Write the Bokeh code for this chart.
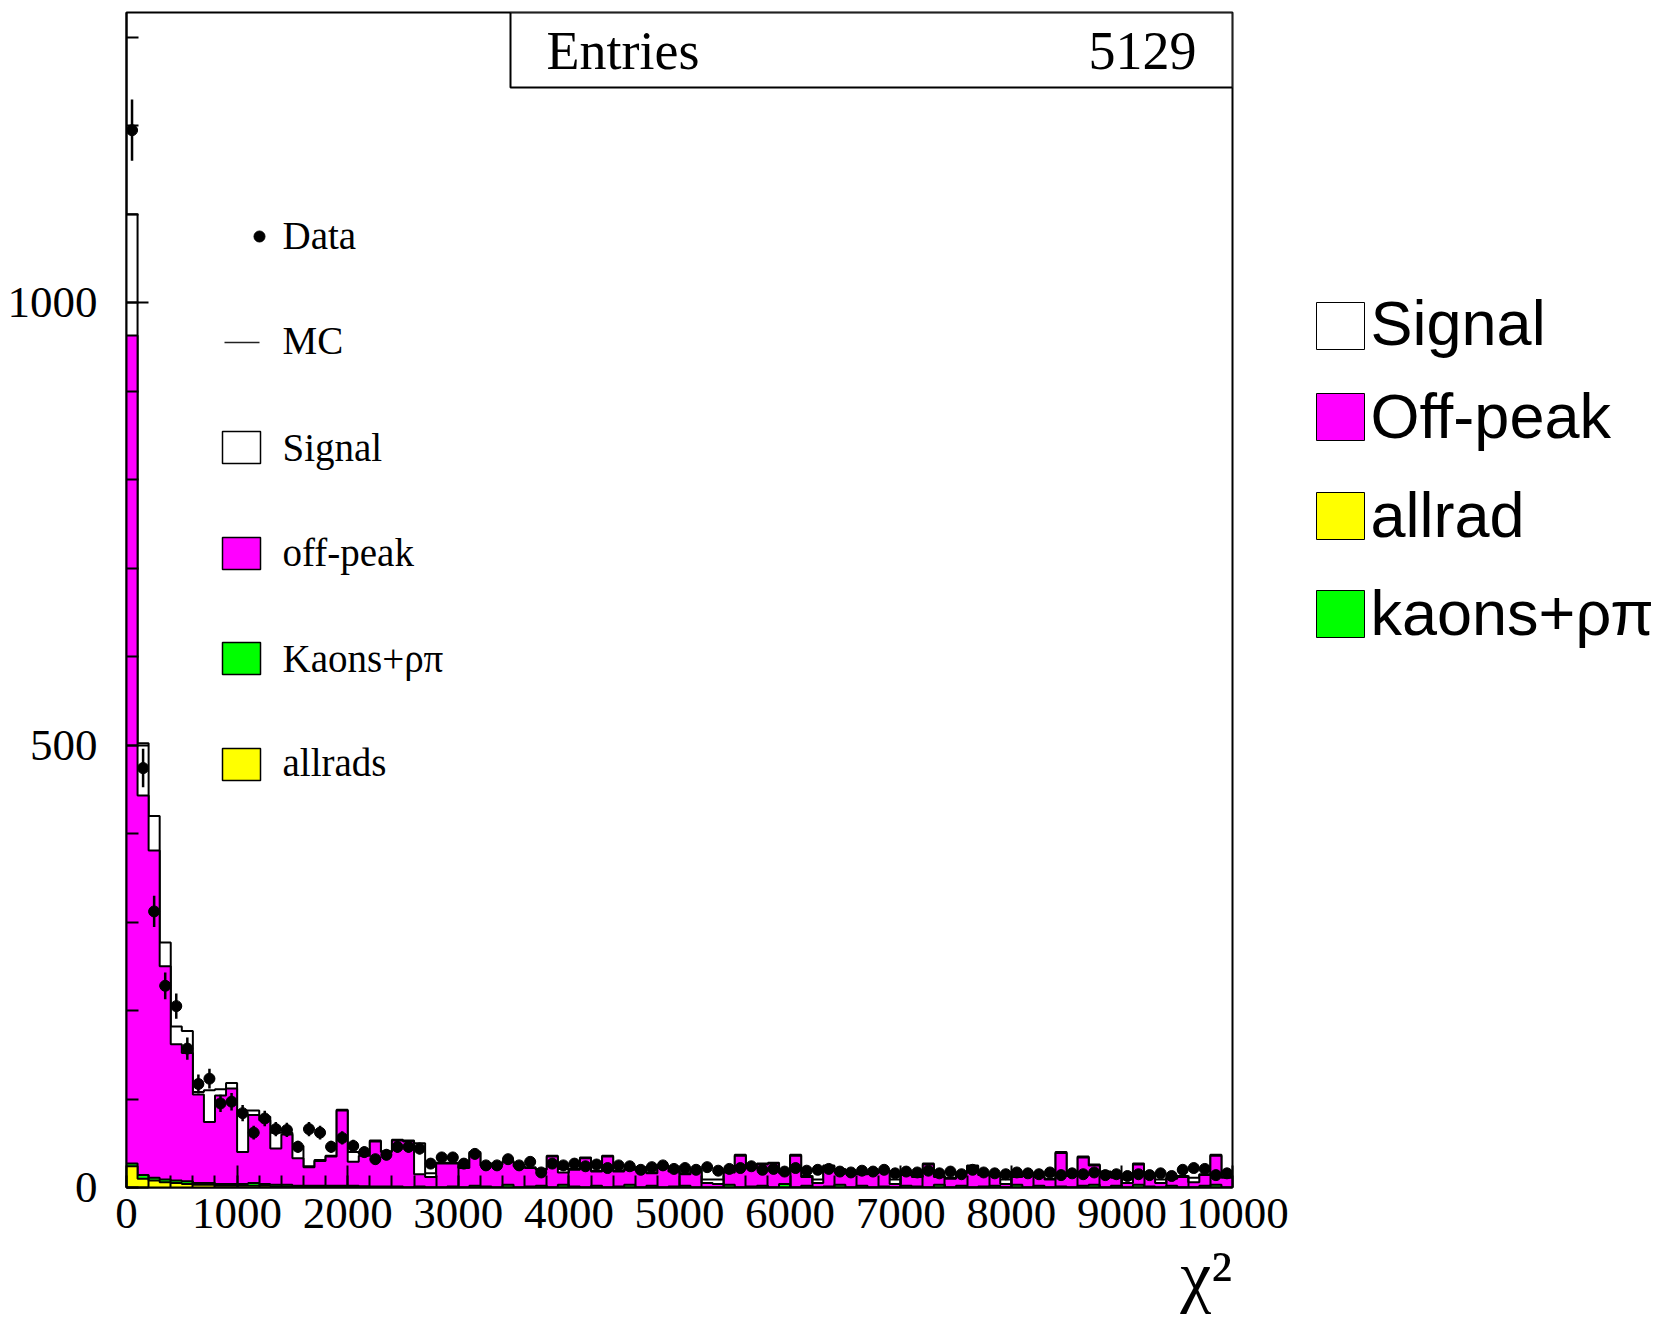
import numpy as np
from bokeh.plotting import figure
from bokeh.models import Range1d, SingleIntervalTicker
from bokeh.layouts import row
from bokeh.embed import file_html
from bokeh.resources import INLINE
from bokeh.core.properties import value

# ---------------- data (100 bins of width 100 in chi^2) ----------------
bin_width = 100
n_bins = 100

allrad = [24, 10, 8, 6, 5, 4, 3, 3, 2, 2,
          2, 2, 2, 1, 1, 1, 1, 1, 1, 1,
          1, 1, 0, 0, 0, 0, 0, 0, 0, 0,
          0, 0, 0, 0, 0, 0, 0, 0, 0, 0,
          0, 0, 0, 0, 0, 0, 0, 0, 0, 0,
          0, 0, 0, 0, 0, 0, 0, 0, 0, 0,
          0, 0, 0, 0, 0, 0, 0, 0, 0, 0,
          0, 0, 0, 0, 0, 0, 0, 0, 0, 0,
          0, 0, 0, 0, 0, 0, 0, 0, 0, 0,
          0, 0, 0, 0, 0, 0, 0, 0, 0, 0]

kaons = [3, 4, 3, 3, 3, 3, 2, 2, 2, 2,
         2, 3, 2, 2, 2, 1, 1, 1, 1, 1,
         1, 0, 1, 1, 1, 0, 1, 0, 0, 1,
         0, 2, 1, 0, 3, 0, 1, 2, 0, 3,
         1, 0, 2, 0, 1, 3, 0, 2, 0, 1,
         2, 0, 0, 0, 3, 0, 1, 2, 0, 4,
         0, 2, 0, 1, 3, 0, 2, 0, 1, 0,
         2, 1, 0, 3, 0, 2, 0, 1, 2, 0,
         3, 0, 2, 0, 1, 0, 2, 3, 0, 2,
         0, 3, 1, 0, 2, 0, 0, 2, 3, 0]

offpeak = [936, 429, 370, 241, 154, 145, 100, 69, 100, 108,
           36, 77, 72, 41, 57, 31, 21, 28, 33, 85,
           27, 35, 51, 39, 52, 52, 14, 12, 27, 26,
           22, 37, 24, 26, 26, 24, 21, 18, 35, 14,
           19, 33, 16, 35, 17, 17, 22, 14, 24, 17,
           13, 19, 5, 4, 14, 36, 21, 24, 27, 12,
           36, 10, 5, 23, 17, 16, 13, 16, 17, 4,
           12, 11, 26, 9, 10, 14, 24, 13, 11, 4,
           9, 15, 10, 9, 38, 13, 32, 22, 17, 9,
           5, 23, 13, 5, 8, 12, 6, 12, 33, 11]

signal = [137, 59, 39, 27, 20, 25, 3, 36, 7, 6,
          47, 5, 4, 18, 2, 14, 1, 1, 1, 1,
          11, 2, 1, 1, 1, 1, 35, 4, 1, 1,
          1, 1, 2, 1, 1, 1, 1, 1, 1, 4,
          1, 1, 1, 1, 1, 1, 1, 1, 1, 1,
          1, 1, 4, 5, 1, 1, 1, 1, 1, 1,
          1, 1, 4, 1, 1, 1, 1, 1, 1, 5,
          1, 1, 1, 1, 1, 1, 1, 1, 1, 5,
          1, 1, 1, 1, 1, 1, 1, 1, 1, 1,
          4, 1, 1, 4, 1, 1, 5, 1, 1, 1]

data_counts = [1195, 474, 312, 228, 205, 157, 117, 123, 95, 97,
               84, 62, 78, 66, 65, 46, 66, 62, 46, 56,
               47, 40, 32, 37, 46, 46, 44, 27, 34, 34,
               27, 38, 25, 25, 32, 25, 29, 17, 27, 25,
               27, 24, 26, 22, 25, 24, 20, 23, 25, 21,
               22, 20, 23, 19, 21, 22, 24, 20, 21, 18,
               22, 19, 20, 21, 18, 17, 19, 18, 20, 16,
               18, 17, 19, 16, 18, 15, 20, 17, 16, 15,
               17, 16, 15, 17, 14, 16, 15, 17, 14, 15,
               13, 15, 14, 16, 13, 20, 22, 21, 14, 16]

entries = 5129
x_title = "χ²"
inner_legend_labels = ["Data", "MC", "Signal", "off-peak", "Kaons+ρπ", "allrads"]
outer_legend_labels = ["Signal", "Off-peak", "allrad", "kaons+ρπ"]

# colours
C_SIG = "white"
C_OFF = "#FF00FF"
C_KAON = "#00FF00"
C_RAD = "#FFFF00"

# ---------------- geometry helpers (page px -> data) ----------------
PAGE_W, PAGE_H = 1657, 1324
MAIN_W = 1308
X_MAX = 10000.0
Y_MAX = 1328.0
FL, FR, FT, FB = 126, 1232, 12, 1187     # frame in page px
BASE_SHIFT = 0.35                         # alphabetic-baseline correction (x font size)


def dx(px):
    return (px - FL) / (FR - FL) * X_MAX


def dy(py):
    return (FB - py) / (FB - FT) * Y_MAX


def dyb(py, fs):
    # y for a text whose alphabetic baseline must land at page py
    return dy(py - BASE_SHIFT * fs)


edges = np.arange(n_bins + 1) * bin_width
lo = edges[:-1]
hi = edges[1:]
centers = lo + bin_width / 2

a = np.array(allrad, float)
k = np.array(kaons, float)
o = np.array(offpeak, float)
s = np.array(signal, float)
c_rad = a
c_kaon = a + k
c_off = c_kaon + o
c_sig = c_off + s

d = np.array(data_counts, float)
err = np.sqrt(d)

# ---------------- main figure ----------------
p = figure(width=MAIN_W, height=PAGE_H, output_backend="svg", toolbar_location=None,
           x_range=Range1d(0, X_MAX), y_range=Range1d(0, Y_MAX),
           min_border_left=FL, min_border_right=MAIN_W - FR,
           min_border_top=FT, min_border_bottom=PAGE_H - FB)
p.background_fill_color = "white"
p.border_fill_color = "white"
p.outline_line_color = "black"
p.outline_line_width = 2
p.xgrid.visible = False
p.ygrid.visible = False

for ax, tick in ((p.xaxis, SingleIntervalTicker(interval=1000, num_minor_ticks=5)),
                 (p.yaxis, SingleIntervalTicker(interval=500, num_minor_ticks=5))):
    ax.ticker = tick
    ax.axis_line_width = 2
    ax.axis_line_color = "black"
    ax.major_tick_in = 22
    ax.major_tick_out = 0
    ax.minor_tick_in = 12
    ax.minor_tick_out = 0
    ax.major_tick_line_width = 2
    ax.minor_tick_line_width = 2
    ax.major_label_text_font = "Liberation Serif"
    ax.major_label_text_font_size = "45px"
    ax.major_label_text_color = "black"
p.xaxis.major_label_standoff = 11
p.yaxis.major_label_standoff = 29

# the axis title is centred on the frame end; trailing no-break spaces pull it left
p.xaxis.axis_label = x_title + "\u00a0" * 3
p.xaxis.axis_label_align = "end"
p.xaxis.axis_label_text_font = "Liberation Serif"
p.xaxis.axis_label_text_font_style = "normal"
p.xaxis.axis_label_text_font_size = "70px"
p.xaxis.axis_label_text_color = "black"
p.xaxis.axis_label_standoff = 6


def step_vals(v):
    return np.append(v, v[-1])


layers = [(c_sig, C_SIG), (c_off, C_OFF), (c_kaon, C_KAON), (c_rad, C_RAD)]
for vals, col in layers:
    p.varea_step(x=edges, y1=np.zeros(n_bins + 1), y2=step_vals(vals),
                 step_mode="after", fill_color=col)
    p.step(x=edges, y=step_vals(vals), mode="after", line_color="black", line_width=2)

# data points with errors
p.segment(x0=centers, y0=d - err, x1=centers, y1=d + err, line_color="black", line_width=2.5)
p.segment(x0=lo, y0=d, x1=hi, y1=d, line_color="black", line_width=2.5)
p.scatter(x=centers, y=d, size=11, marker="circle", fill_color="black", line_color="black")

# stats box
p.quad(left=[dx(510)], right=[X_MAX], bottom=[dy(87)], top=[Y_MAX],
       fill_color="white", line_color="black", line_width=2)
p.text(x=[dx(546)], y=[dyb(69, 54)], text=["Entries"], text_font=value("Liberation Serif"),
       text_font_size="54px", text_baseline="alphabetic", text_align="left", text_color="black")
p.text(x=[dx(1196)], y=[dyb(69, 54)], text=[str(entries)], text_font=value("Liberation Serif"),
       text_font_size="54px", text_baseline="alphabetic", text_align="right", text_color="black")

# inner legend
leg_base = [249, 354, 461, 566, 672, 776]
p.scatter(x=[dx(259)], y=[dy(236)], size=11, marker="circle", fill_color="black", line_color="black")
p.segment(x0=[dx(224)], y0=[dy(342)], x1=[dx(259)], y1=[dy(342)], line_color="#222222", line_width=1.5)
box_tops = [431, 537, 642, 748]
box_cols = [C_SIG, C_OFF, C_KAON, C_RAD]
p.quad(left=[dx(222)] * 4, right=[dx(260)] * 4,
       top=[dy(t) for t in box_tops], bottom=[dy(t + 32) for t in box_tops],
       fill_color=box_cols, line_color="black", line_width=1.5)
p.text(x=[dx(282)] * 6, y=[dyb(b, 39) for b in leg_base], text=inner_legend_labels,
       text_font=value("Liberation Serif"), text_font_size="39px",
       text_baseline="alphabetic", text_align="left", text_color="black")

# ---------------- right legend figure ----------------
W2 = PAGE_W - MAIN_W
p2 = figure(width=W2, height=PAGE_H, output_backend="svg", toolbar_location=None,
            x_range=Range1d(0, W2), y_range=Range1d(0, Y_MAX),
            x_axis_type=None, y_axis_type=None,
            min_border_left=0, min_border_right=0,
            min_border_top=FT, min_border_bottom=PAGE_H - FB)
p2.outline_line_color = None
p2.background_fill_color = "white"
p2.border_fill_color = "white"
p2.xgrid.visible = False
p2.ygrid.visible = False


def lx(px):
    return px - MAIN_W


r_tops = [302, 393, 492, 590]
r_cols = [C_SIG, C_OFF, C_RAD, C_KAON]
r_base = [345, 438, 537, 635]
p2.quad(left=[lx(1316)] * 4, right=[lx(1364)] * 4,
        top=[dy(t) for t in r_tops], bottom=[dy(t + 47) for t in r_tops],
        fill_color=r_cols, line_color="black", line_width=1)
p2.text(x=[lx(1370)] * 4, y=[dyb(b, 63) for b in r_base], text=outer_legend_labels,
        text_font=value("Liberation Sans"), text_font_size="63px",
        text_baseline="alphabetic", text_align="left", text_color="black")

layout = row(p, p2)
open("out.html", "w").write(file_html(layout, INLINE))
